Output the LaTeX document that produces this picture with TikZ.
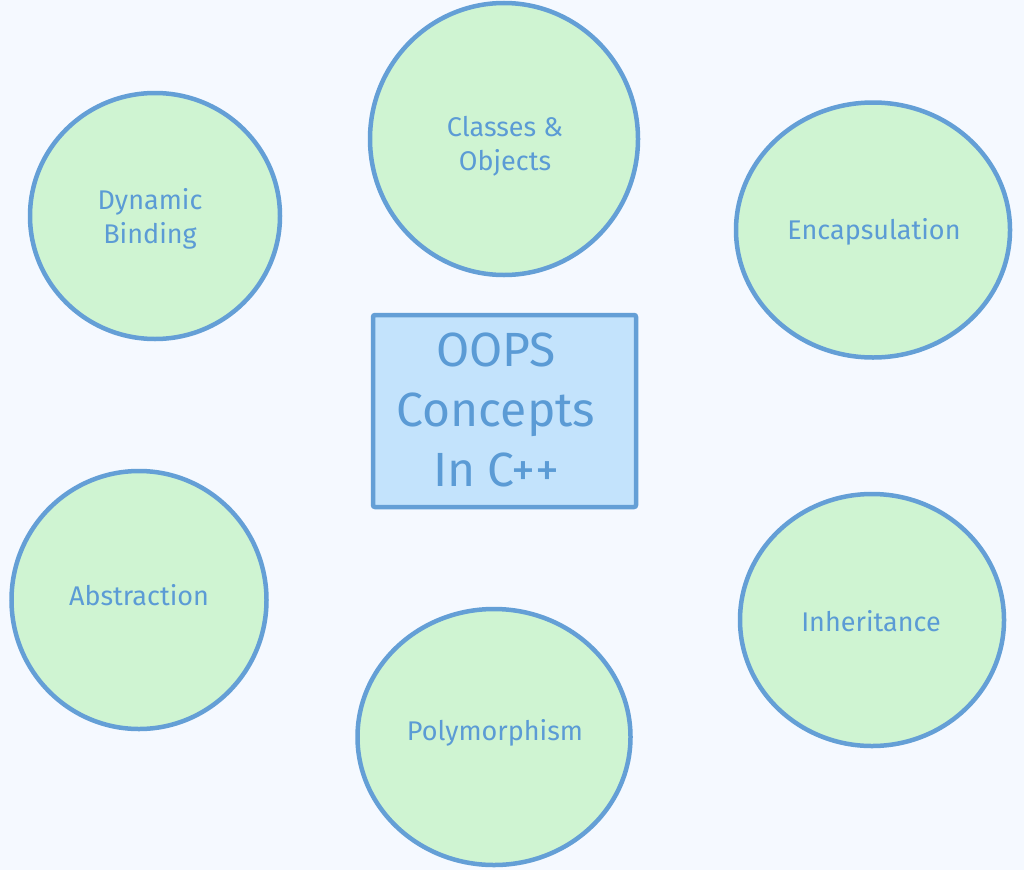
\documentclass[tikz,border=0pt]{standalone}
\usepackage{fontspec}
\setmainfont{Fira Sans}
\usetikzlibrary{shapes.geometric}
\definecolor{bg}{HTML}{F5F9FF}
\definecolor{cfill}{HTML}{CFF4D2}
\definecolor{edge}{HTML}{649FD6}
\definecolor{bfill}{HTML}{C3E3FC}
\definecolor{txt}{HTML}{5B9BD5}
\tikzset{
  concept/.style={ellipse, draw=edge, fill=cfill, line width=4.5pt, inner sep=0pt},
  ctext/.style={text=txt, font=\fontsize{27}{34}\selectfont, align=center},
  mainbox/.style={draw=edge, fill=bfill, line width=4.5pt, rounded corners=2pt},
  btext/.style={text=txt, font=\fontsize{48}{60}\selectfont, align=center},
}
\begin{document}
\begin{tikzpicture}[x=1pt,y=-1pt]
\fill[bg] (0,0) rectangle (1024,870);
\useasboundingbox (0,0) rectangle (1024,870);
\node[concept, minimum width=268pt, minimum height=272pt] (cls) at (504,139) {};
\node[ctext] (clst) at (505,146) {Classes \&\\Objects};
\node[concept, minimum width=250pt, minimum height=246pt] (dyn) at (155,216) {};
\node[ctext] (dynt) at (150,219) {Dynamic\\Binding};
\node[concept, minimum width=274pt, minimum height=255pt] (enc) at (873,230) {};
\node[ctext] (enct) at (874,232) {Encapsulation};
\node[concept, minimum width=255pt, minimum height=258pt] (abs) at (139,600) {};
\node[ctext] (abst) at (139,595) {Abstraction};
\node[concept, minimum width=273pt, minimum height=256pt] (poly) at (494,737) {};
\node[ctext] (polyt) at (495,733) {Polymorphism};
\node[concept, minimum width=264pt, minimum height=252pt] (inh) at (872,620) {};
\node[ctext] (inht) at (871,621) {Inheritance};
\draw[mainbox] (373,315) rectangle (636,507);
\node[btext] (boxt) at (496,410) {OOPS\\Concepts\\In C++};
\end{tikzpicture}
\end{document}
